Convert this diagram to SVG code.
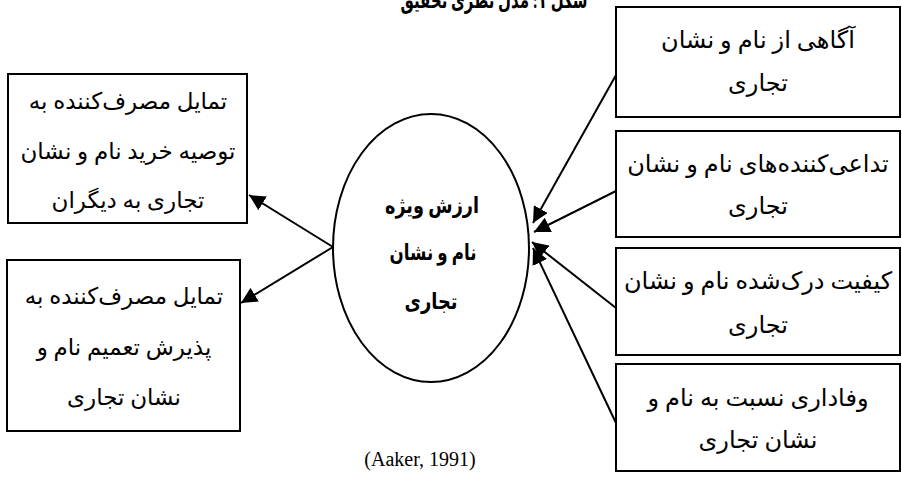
<svg xmlns="http://www.w3.org/2000/svg" width="902" height="482" viewBox="0 0 902 482">
<style>
.box{fill:#fff;stroke:#000;stroke-width:2}
.t{font-family:"Liberation Serif","DejaVu Sans",serif;font-size:23px;fill:#000;text-anchor:middle;direction:rtl}
.r{font-size:24px}
.b{font-weight:bold;font-size:22px}
.c{stroke:#000;stroke-width:2;fill:none}
</style>
<defs>
<marker id="ahL" viewBox="0 0 10 10" refX="10" refY="5" markerWidth="16" markerHeight="16" markerUnits="userSpaceOnUse" orient="auto"><path d="M0,0 L10,5 L0,10 Z" fill="#000"/></marker>
</defs>
<rect width="902" height="482" fill="#fff"/>
<text class="t" x="494" y="8" font-weight="bold" font-size="24" textLength="187" lengthAdjust="spacingAndGlyphs">شکل ۱: مدل نظری تحقیق</text>
<g id="connectors">
<line class="c" x1="333" y1="247" x2="249" y2="195" marker-end="url(#ahL)"/>
<line class="c" x1="333" y1="247" x2="241" y2="303" marker-end="url(#ahL)"/>
<line class="c" x1="616" y1="75" x2="533" y2="223" marker-end="url(#ahL)"/>
<line class="c" x1="616" y1="191" x2="534" y2="232" marker-end="url(#ahL)"/>
<line class="c" x1="616" y1="308" x2="532" y2="242" marker-end="url(#ahL)"/>
<line class="c" x1="616" y1="423" x2="533" y2="248" marker-end="url(#ahL)"/>
</g>
<g id="left1">
<rect class="box" x="8" y="74" width="239" height="149"/>
<text class="t" x="128" y="109">تمایل مصرف‌کننده به</text>
<text class="t" x="128" y="159">توصیه خرید نام و نشان</text>
<text class="t" x="128" y="208">تجاری به دیگران</text>
</g>
<g id="left2">
<rect class="box" x="7" y="260" width="233" height="171"/>
<text class="t" x="124" y="304">تمایل مصرف‌کننده به</text>
<text class="t" x="124" y="355">پذیرش تعمیم نام و</text>
<text class="t" x="124" y="405">نشان تجاری</text>
</g>
<g id="center">
<ellipse cx="431" cy="248" rx="98" ry="134" fill="#fff" stroke="#000" stroke-width="2"/>
<text class="t b" x="432" y="213" textLength="94" lengthAdjust="spacingAndGlyphs">ارزش ویژه</text>
<text class="t b" x="433" y="260" textLength="87" lengthAdjust="spacingAndGlyphs">نام و نشان</text>
<text class="t b" x="431" y="309" textLength="53" lengthAdjust="spacingAndGlyphs">تجاری</text>
</g>
<g id="right1">
<rect class="box" x="616" y="7" width="284" height="110"/>
<text class="t r" x="758" y="48">آگاهی از نام و نشان</text>
<text class="t r" x="758" y="91">تجاری</text>
</g>
<g id="right2">
<rect class="box" x="616" y="131" width="284" height="106"/>
<text class="t r" x="758" y="172">تداعی‌کننده‌های نام و نشان</text>
<text class="t r" x="758" y="214">تجاری</text>
</g>
<g id="right3">
<rect class="box" x="616" y="248" width="284" height="107"/>
<text class="t r" x="758" y="289">کیفیت درک‌شده نام و نشان</text>
<text class="t r" x="758" y="333">تجاری</text>
</g>
<g id="right4">
<rect class="box" x="616" y="364" width="284" height="107"/>
<text class="t r" x="758" y="406">وفاداری نسبت به نام و</text>
<text class="t r" x="758" y="448">نشان تجاری</text>
</g>
<text x="420" y="466" font-family="Liberation Serif, serif" font-size="20" text-anchor="middle">(Aaker, 1991)</text>
</svg>
